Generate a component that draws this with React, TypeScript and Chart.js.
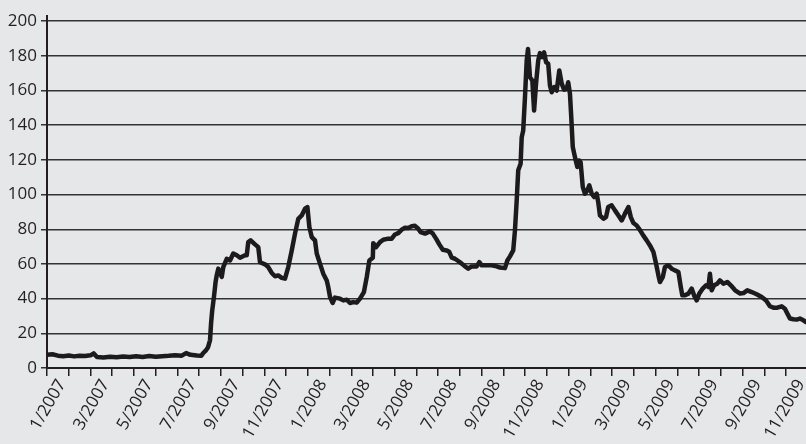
import React, { useEffect, useRef } from "react";
import { Chart, registerables } from "chart.js";

Chart.register(...registerables);

// x = months since start of Jan 2007 (fractional), y = value
const monthPos: number[] = [
  0.0, 0.25, 0.5, 0.75, 1.0, 1.25, 1.5, 1.75, 2.0, 2.15, 2.3, 2.6, 2.9, 3.2, 3.5, 3.8, 4.1, 4.4, 4.7, 5.0,
  5.3, 5.6, 5.9, 6.2, 6.4, 6.6, 6.9, 7.1, 7.18, 7.3, 7.41, 7.5, 7.55, 7.6, 7.68, 7.76, 7.81, 7.88, 8.04, 8.11,
  8.27, 8.42, 8.57, 8.73, 8.88, 9.11, 9.19, 9.26, 9.37, 9.57, 9.72, 9.8, 10.03, 10.18, 10.34, 10.49, 10.64, 10.8, 10.95, 11.1,
  11.26, 11.41, 11.56, 11.72, 11.87, 11.98, 12.07, 12.18, 12.33, 12.41, 12.56, 12.71, 12.87, 12.94, 13.02, 13.14, 13.25, 13.48, 13.63, 13.79,
  13.94, 14.09, 14.25, 14.4, 14.58, 14.71, 14.83, 14.99, 15.01, 15.14, 15.32, 15.47, 15.7, 15.86, 16.01, 16.16, 16.32, 16.47, 16.62, 16.78,
  16.93, 17.08, 17.19, 17.39, 17.62, 17.75, 17.9, 18.05, 18.21, 18.39, 18.51, 18.62, 18.77, 18.92, 19.08, 19.23, 19.38, 19.54, 19.77, 19.89,
  20.0, 20.23, 20.46, 20.69, 20.84, 21.07, 21.18, 21.3, 21.45, 21.53, 21.61, 21.68, 21.79, 21.84, 21.91, 21.99, 22.07, 22.13, 22.22, 22.33,
  22.41, 22.5, 22.6, 22.68, 22.79, 22.87, 22.96, 23.06, 23.14, 23.22, 23.34, 23.45, 23.57, 23.68, 23.79, 23.91, 23.98, 24.06, 24.12, 24.19,
  24.29, 24.4, 24.48, 24.55, 24.65, 24.75, 24.86, 24.95, 25.06, 25.17, 25.29, 25.36, 25.44, 25.6, 25.72, 25.82, 25.98, 26.13, 26.29, 26.44,
  26.59, 26.75, 26.86, 26.98, 27.13, 27.29, 27.43, 27.59, 27.74, 27.9, 28.02, 28.13, 28.2, 28.33, 28.43, 28.59, 28.74, 28.89, 29.05, 29.16,
  29.23, 29.35, 29.51, 29.66, 29.77, 29.89, 30.01, 30.17, 30.32, 30.43, 30.5, 30.58, 30.69, 30.84, 30.96, 31.12, 31.3, 31.46, 31.66, 31.89,
  32.04, 32.22, 32.42, 32.65, 32.88, 33.08, 33.26, 33.42, 33.6, 33.8, 33.95, 34.06, 34.18, 34.34, 34.49, 34.64, 34.8, 34.92,
];

const seriesValues: number[] = [
  7.6, 7.9, 7.1, 6.8, 7.2, 6.7, 7.0, 6.9, 7.3, 8.4, 6.3, 6.1, 6.5, 6.2, 6.6, 6.3, 6.8, 6.4, 6.9, 6.5,
  6.8, 7.0, 7.3, 7.1, 8.6, 7.6, 7.2, 7.0, 8.5, 10, 12, 16, 26, 33, 41, 50, 53.5, 57.3, 52.5, 58.2,
  63, 62, 66, 65, 63.6, 65, 65, 72.6, 73.6, 71.3, 69.7, 61, 59.8, 58.2, 54.8, 52.9, 53.4, 52, 51.5, 58.2,
  67.8, 77.5, 86, 88, 91.9, 92.8, 81.3, 75.5, 73.6, 66, 60.2, 54.4, 50.5, 46.7, 41, 37.5, 40.6, 40, 39, 39.4,
  37.5, 38, 37.7, 40, 43.8, 52.4, 62, 63.6, 72, 69.7, 72.6, 74, 74.6, 74.6, 77, 77.8, 79.8, 80.9, 80.7, 81.7,
  82, 80.3, 78.4, 77.5, 78.8, 77.5, 74.6, 71.3, 68.2, 67.8, 66.9, 63.6, 63, 61.7, 60.2, 58.6, 57.3, 58.6, 58.6, 61,
  59.2, 59.2, 59.2, 58.6, 57.9, 57.6, 62, 64.4, 67.8, 79.4, 96.7, 114, 117.8, 133, 137, 156, 177.3, 184, 167.7, 165.8,
  148.5, 164, 177.3, 181.6, 179.3, 182, 176.4, 175.4, 163, 159, 162, 160, 171.6, 164, 160.5, 161, 164.8, 158.2, 144.7, 127.4,
  121.6, 115.9, 119.7, 118.7, 104.3, 100.5, 102.4, 105.3, 100.5, 98.6, 100.5, 95.7, 88, 86.1, 87, 92.8, 93.8, 90.9, 88, 85.1,
  89, 92.8, 87, 83.6, 82.2, 79.4, 76.5, 73.6, 70.7, 66.9, 60.2, 53.4, 49.6, 52.4, 58.2, 59.2, 57.3, 56.3, 55.3, 46.7,
  41.9, 41.9, 42.9, 45.8, 41.9, 39, 42.9, 45.8, 47.7, 46.7, 54.4, 44.8, 47.7, 48.6, 50.5, 48.6, 49.6, 47.7, 44.8, 42.9,
  43.2, 44.8, 43.8, 42.5, 40.9, 39, 35.6, 34.8, 34.8, 35.6, 34.2, 31.4, 28.5, 28.1, 27.9, 28.5, 27.5, 26.5,
];

const xTickLabels: string[] = [
  "1/2007", "3/2007", "5/2007", "7/2007", "9/2007", "11/2007",
  "1/2008", "3/2008", "5/2008", "7/2008", "9/2008", "11/2008",
  "1/2009", "3/2009", "5/2009", "7/2009", "9/2009", "11/2009",
];

const yTickValues: number[] = [0, 20, 40, 60, 80, 100, 120, 140, 160, 180, 200];

const X_MAX = 34.92;
const Y_MAX = 203;

const bgPlugin = {
  id: "bgFill",
  beforeDraw(chart: any) {
    const ctx = chart.ctx;
    ctx.save();
    ctx.fillStyle = "#e6e7e8";
    ctx.fillRect(0, 0, chart.width, chart.height);
    ctx.restore();
  },
};

export default function App() {
  const ref = useRef<HTMLCanvasElement | null>(null);

  useEffect(() => {
    if (!ref.current) return;
    const data = monthPos.map((m, i) => ({ x: m, y: seriesValues[i] }));
    const font = { family: '"Open Sans", sans-serif', size: 17 };
    const chart = new Chart(ref.current, {
      type: "line",
      data: {
        datasets: [
          {
            data,
            borderColor: "#1c1a1b",
            borderWidth: 4.5,
            pointRadius: 0,
            tension: 0,
            borderJoinStyle: "round",
            borderCapStyle: "round",
            fill: false,
          },
        ],
      },
      options: {
        animation: false,
        responsive: true,
        maintainAspectRatio: false,
        layout: { padding: { top: 16, left: 0, right: 0, bottom: 0 } },
        plugins: { legend: { display: false }, tooltip: { enabled: false } },
        scales: {
          x: {
            type: "linear",
            min: 0,
            max: X_MAX,
            afterBuildTicks: (scale: any) => {
              const t = [];
              for (let i = 0; i <= Math.floor(X_MAX); i++) t.push({ value: i });
              scale.ticks = t;
            },
            afterFit: (scale: any) => {
              scale.height = 76;
            },
            ticks: {
              autoSkip: false,
              minRotation: 60,
              maxRotation: 60,
              padding: 0,
              labelOffset: 15,
              color: "#231f20",
              font,
              callback: (v: any) => {
                const n = Math.round(Number(v));
                return n % 2 === 0 ? xTickLabels[n / 2] ?? "" : "";
              },
            },
            grid: {
              drawOnChartArea: false,
              drawTicks: true,
              tickLength: 8,
              color: "#231f20",
              lineWidth: 1.5,
            },
            border: { display: true, color: "#231f20", width: 2 },
          },
          y: {
            type: "linear",
            min: 0,
            max: Y_MAX,
            afterBuildTicks: (scale: any) => {
              scale.ticks = yTickValues.map((v) => ({ value: v }));
            },
            afterFit: (scale: any) => {
              scale.width = 47;
            },
            ticks: {
              padding: 4,
              color: "#231f20",
              font,
            },
            grid: {
              drawOnChartArea: true,
              drawTicks: true,
              tickLength: 6,
              color: "#333333",
              lineWidth: 1.5,
            },
            border: { display: true, color: "#231f20", width: 2 },
          },
        },
      },
      plugins: [bgPlugin],
    } as any);
    return () => chart.destroy();
  }, []);

  return (
    <div style={{ position: "fixed", left: 0, top: 0, width: 806, height: 444, background: "#e6e7e8" }}>
      <canvas ref={ref} />
    </div>
  );
}
